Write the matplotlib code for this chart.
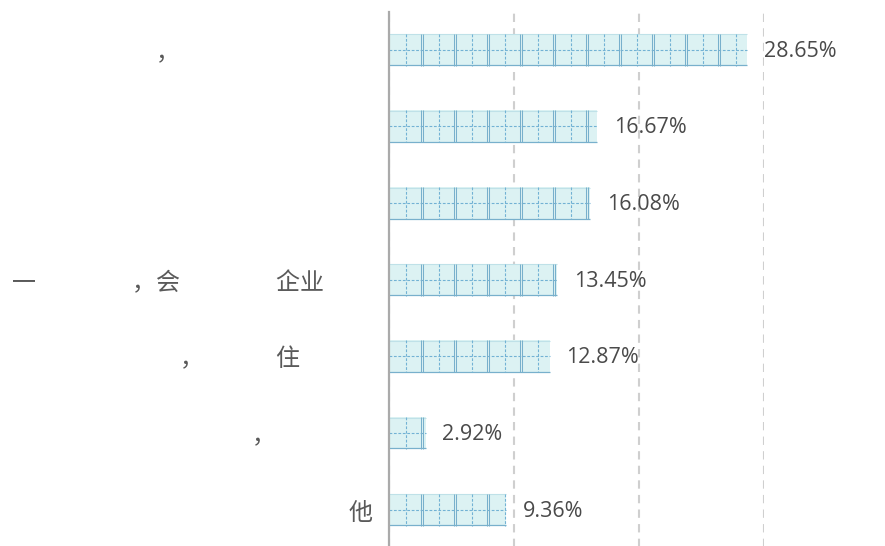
import matplotlib
matplotlib.use("Agg")
import matplotlib.pyplot as plt
from matplotlib.patches import Rectangle

S = "\u3000"
categories = [
    "，" + S * 8,
    "",
    "",
    "一" + S * 4 + "，会" + S * 4 + "企业" + S * 2,
    "，" + S * 3 + "住" + S * 3,
    "，" + S * 4,
    "他",
]
values = [28.65, 16.67, 16.08, 13.45, 12.87, 2.92, 9.36]
value_labels = ["28.65%", "16.67%", "16.08%", "13.45%", "12.87%", "2.92%", "9.36%"]
x_ticks = [0, 10, 20, 30]

W, H = 885, 546
fig = plt.figure(figsize=(W / 100, H / 100), dpi=100)
ax_left, ax_right, ax_top, ax_bottom = 389, 764, 11.5, 548
ax = fig.add_axes([ax_left / W, 1 - ax_bottom / H, (ax_right - ax_left) / W, (ax_bottom - ax_top) / H])

xmax = 30
ax.set_xlim(0, xmax)
n = len(categories)
ax.set_ylim(n - 0.5, -0.5)

px_per_x = (ax_right - ax_left) / xmax
px_per_y = (ax_bottom - ax_top) / n
tile_px = 33
tile_w = tile_px / px_per_x
bar_h = 32 / px_per_y
inset = 1.4 / px_per_x

fill_c = "#dcf2f3"
border_c = "#78b0cc"
dash_c = "#72b2d4"

for i, v in enumerate(values):
    y0 = i - bar_h / 2
    y1 = i + bar_h / 2
    ax.add_patch(Rectangle((0, y0), v, bar_h, facecolor=fill_c, edgecolor="none", zorder=2))
    ax.plot([0, v], [y1 - 0.6 / px_per_y, y1 - 0.6 / px_per_y], color=border_c, lw=0.9, zorder=3, solid_capstyle="butt")
    ax.plot([0, v], [y0 + 0.5 / px_per_y, y0 + 0.5 / px_per_y], color="#bfe1e8", lw=0.8, zorder=3, solid_capstyle="butt")
    ax.plot([0, v], [i, i], color=dash_c, lw=0.8, ls=(0, (2.5, 1.5)), zorder=3)
    k = 0
    while k * tile_w < v:
        xs = k * tile_w
        for j, xl in enumerate((xs + inset, xs + tile_w - inset)):
            if k == 0 and j == 0:
                continue
            if xl < v:
                ax.plot([xl, xl], [y0, y1], color=border_c, lw=0.75, zorder=3, solid_capstyle="butt")
        xc = xs + tile_w / 2
        if xc < v:
            ax.plot([xc, xc], [y0, y1], color=dash_c, lw=0.8, ls=(0, (2.5, 1.5)), zorder=3)
        k += 1
    ax.annotate(value_labels[i], xy=(v, i), xytext=(12, -1), textcoords="offset points",
                ha="left", va="center", fontsize=15.5, color="#4a4a4a", family="Open Sans",
                zorder=5, annotation_clip=False)

ax.set_xticks(x_ticks)
ax.set_xticklabels([])
ax.tick_params(axis="x", length=0)
ax.grid(axis="x", color="#cfcfcf", lw=1.5, ls=(0, (4, 3)), zorder=0)
ax.set_axisbelow(True)

ax.set_yticks(range(n))
ax.set_yticklabels(categories, family=["Noto Sans CJK SC", "DejaVu Sans"], fontsize=17.3, color="#5a5a5a")
ax.tick_params(axis="y", length=0, pad=12)

for s in ("top", "right", "bottom"):
    ax.spines[s].set_visible(False)
ax.spines["left"].set_color("#aaaaaa")
ax.spines["left"].set_linewidth(1.6)
ax.spines["left"].set_zorder(6)

fig.savefig("out.png", dpi=100)
